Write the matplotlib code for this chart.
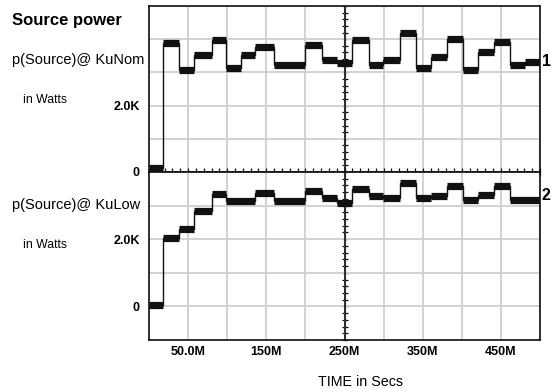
import numpy as np
import matplotlib.pyplot as plt
from matplotlib.ticker import MultipleLocator

plt.rcParams['font.family'] = ['Liberation Sans', 'DejaVu Sans']

# step edges (time in M secs) and power levels (K watts)
nom_edges = [0, 18, 39, 58, 80, 99, 118, 135, 160, 200, 221, 241, 260, 281,
             299, 321, 341, 361, 381, 402, 421, 441, 462, 481, 500]
nom_levels = [0.12, 3.88, 3.07, 3.52, 3.98, 3.12, 3.52, 3.77, 3.22, 3.82,
              3.37, 3.27, 3.98, 3.22, 3.37, 4.18, 3.12, 3.47, 4.0, 3.07,
              3.62, 3.93, 3.22, 3.32]

low_edges = [0, 18, 39, 58, 80, 99, 135, 160, 200, 221, 241, 260, 281, 299,
             321, 341, 361, 381, 402, 421, 441, 462, 500]
low_levels = [0.05, 2.04, 2.29, 2.84, 3.35, 3.15, 3.38, 3.13, 3.43, 3.23,
              3.08, 3.48, 3.28, 3.23, 3.68, 3.23, 3.28, 3.58, 3.18, 3.33,
              3.58, 3.18]

x_grid = [0, 50, 100, 150, 200, 250, 300, 350, 400, 450, 500]
x_labels = ['', '50.0M', '', '150M', '', '250M', '', '350M', '', '450M', '']

top_yticks = [0, 1, 2, 3, 4, 5]
top_ylabels = ['0', '', '2.0K', '', '', '']
bot_yticks = [-1, 0, 1, 2, 3, 4]
bot_ylabels = ['', '0', '', '2.0K', '', '']

W, H = 552, 392
fig = plt.figure(figsize=(W / 100, H / 100), dpi=100)
L, R = 149, 540
ax1 = fig.add_axes([L / W, 1 - 172 / H, (R - L) / W, (172 - 6) / H])
ax2 = fig.add_axes([L / W, 1 - 340 / H, (R - L) / W, (340 - 172) / H])

tick_font = dict(fontsize=9, fontweight='bold')
ink = '#111111'

for ax, edges, levels, yt, yl, ylim in [
        (ax1, nom_edges, nom_levels, top_yticks, top_ylabels, (0, 5)),
        (ax2, low_edges, low_levels, bot_yticks, bot_ylabels, (-1, 4))]:
    ax.stairs(levels, edges, color=ink, lw=1.0, zorder=3)
    ax.hlines(levels, edges[:-1], edges[1:], color=ink, lw=5.2, zorder=3)
    ax.set_xlim(0, 500)
    ax.set_ylim(*ylim)
    ax.set_xticks(x_grid)
    ax.set_yticks(yt)
    ax.set_yticklabels(yl, **tick_font)
    ax.tick_params(axis='y', length=0, pad=6.5)
    ax.grid(True, color='#cfcfcf', lw=1.3, zorder=0)
    for s in ax.spines.values():
        s.set_linewidth(1.2)
        s.set_color(ink)
    # centre crosshair with small ticks
    ax.axvline(250, color=ink, lw=1.2, zorder=2.5)
    sec = ax.secondary_yaxis(0.5)
    sec.yaxis.set_major_locator(MultipleLocator(0.2))
    sec.tick_params(direction='inout', length=5, width=0.9,
                    labelleft=False, labelright=False, color=ink)

ax1.set_xticklabels([])
ax1.xaxis.set_minor_locator(MultipleLocator(10))
ax1.tick_params(axis='x', which='both', direction='inout', length=6,
                width=0.9, color=ink)

ax2.set_xticklabels(x_labels, **tick_font)
ax2.tick_params(axis='x', length=0, pad=4)


def px(x, y):
    return x / W, 1 - y / H


fig.text(*px(12, 20), 'Source power', fontsize=12, fontweight='bold',
         va='center', ha='left')
fig.text(*px(12, 60), 'p(Source)@ KuNom', fontsize=10.5, va='center')
fig.text(*px(23, 100), 'in Watts', fontsize=8.8, va='center')
fig.text(*px(12, 205), 'p(Source)@ KuLow', fontsize=10.5, va='center')
fig.text(*px(23, 245), 'in Watts', fontsize=8.8, va='center')
fig.text(*px(542, 62), '1', fontsize=11.5, fontweight='bold', va='center')
fig.text(*px(542, 195), '2', fontsize=11.5, fontweight='bold', va='center')
fig.text(*px(360, 382), 'TIME in Secs', fontsize=10.3, ha='center',
         va='center')

fig.savefig('out.png', dpi=100)
